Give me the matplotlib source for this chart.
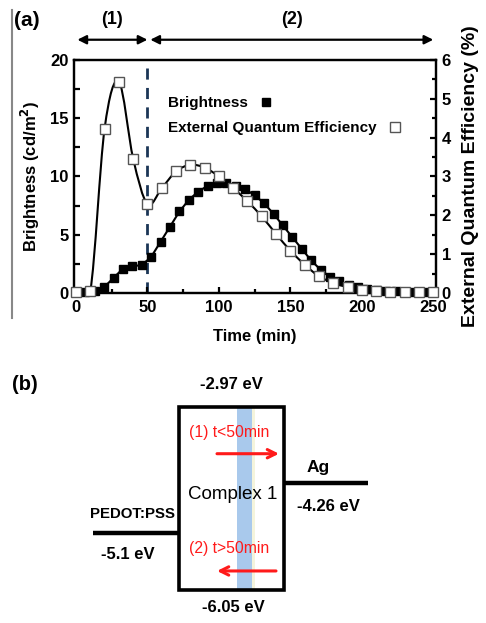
import numpy as np
import matplotlib
matplotlib.use("Agg")
import matplotlib.pyplot as plt
from matplotlib.path import Path
from matplotlib.patches import PathPatch, Rectangle
from matplotlib.lines import Line2D
from matplotlib.ticker import MultipleLocator

plt.rcParams['font.family'] = ['Liberation Sans', 'DejaVu Sans']
plt.rcParams['font.weight'] = 'bold'

# brightness (cd/m2), sampled every ~6.6 min
t_bright = [0, 6.6, 13.2, 19.7, 26.3, 32.9, 39.5, 46.1, 52.6, 59.2, 65.8, 72.4, 79.0,
            85.5, 92.1, 98.7, 105.3, 111.8, 118.4, 125.0, 131.6, 138.2, 144.7, 151.3,
            157.9, 164.5, 171.1, 177.6, 184.2, 190.8, 197.4, 203.9, 210.5, 217.1,
            223.7, 230.3, 236.8, 243.4, 250.0]
brightness = [0.05, 0.1, 0.15, 0.5, 1.3, 2.1, 2.3, 2.4, 3.1, 4.4, 5.7, 7.0, 8.0,
              8.7, 9.2, 9.4, 9.4, 9.2, 8.9, 8.4, 7.7, 6.8, 5.8, 4.8,
              3.8, 2.8, 2.0, 1.4, 1.0, 0.7, 0.5, 0.35, 0.25, 0.2,
              0.15, 0.12, 0.1, 0.1, 0.1]

# external quantum efficiency (%), every 10 min
t_eqe = [0, 10, 20, 30, 40, 50, 60, 70, 80, 90, 100, 110, 120, 130, 140, 150,
         160, 170, 180, 190, 200, 210, 220, 230, 240, 250]
eqe = [0.02, 0.05, 4.23, 5.44, 3.46, 2.29, 2.70, 3.13, 3.30, 3.23, 3.0, 2.70, 2.36,
       1.97, 1.52, 1.09, 0.73, 0.43, 0.26, 0.15, 0.08, 0.05, 0.03, 0.03, 0.02, 0.02]

# energy levels (eV) for panel (b)
lumo = -2.97
homo = -6.05
ag_level = -4.26
pedot_level = -5.1

fig = plt.figure(figsize=(4.86, 6.23), dpi=100)

# ---------------- panel (a) ----------------
ax1 = fig.add_axes([74 / 486, 1 - 293 / 623, 362 / 486, 233 / 623])
ax2 = ax1.twinx()

ax1.plot(t_bright, brightness, color='black', lw=1.5, marker='s', ms=5.5,
         mfc='black', mec='black', clip_on=False, zorder=3)

# smooth curve through EQE points (Catmull-Rom as cubic Bezier path)
pts = np.column_stack([t_eqe, eqe])
verts = [pts[0]]
codes = [Path.MOVETO]
n = len(pts)
for i in range(n - 1):
    p0 = pts[max(i - 1, 0)]
    p1 = pts[i]
    p2 = pts[i + 1]
    p3 = pts[min(i + 2, n - 1)]
    c1 = p1 + (p2 - p0) / 6.0
    c2 = p2 - (p3 - p1) / 6.0
    c1[1] = max(c1[1], 0.0)
    c2[1] = max(c2[1], 0.0)
    verts += [c1, c2, p2]
    codes += [Path.CURVE4] * 3
ax2.add_patch(PathPatch(Path(verts, codes), fc='none', ec='black', lw=1.5, zorder=2))
ax2.plot(t_eqe, eqe, ls='none', marker='s', ms=6.5, mfc='white', mec='#555555',
         mew=1.0, clip_on=False, zorder=4)

ax1.axvline(50, color='#1b3556', lw=2, dashes=(4, 3), zorder=1)

ax1.set_xlim(-1.4, 251.9)
ax1.set_ylim(0, 20)
ax2.set_ylim(0, 6)

for ax in (ax1, ax2):
    for s in ax.spines.values():
        s.set_linewidth(1.6)
ax1.xaxis.set_major_locator(MultipleLocator(50))
ax1.xaxis.set_minor_locator(MultipleLocator(25))
ax1.yaxis.set_major_locator(MultipleLocator(5))
ax1.yaxis.set_minor_locator(MultipleLocator(2.5))
ax2.yaxis.set_major_locator(MultipleLocator(1))
ax2.yaxis.set_minor_locator(MultipleLocator(0.5))
ax1.tick_params(axis='both', which='both', direction='in', width=1.6, labelsize=12)
ax1.tick_params(axis='x', pad=5)
ax1.tick_params(axis='y', pad=4)
ax1.tick_params(which='major', length=4)
ax1.tick_params(which='minor', length=3)
ax1.tick_params(axis='y', which='minor', length=4)
ax2.tick_params(axis='y', which='both', direction='in', width=1.6, length=4, labelsize=12, pad=4)
ax2.tick_params(axis='y', which='minor', length=3)
for lab in ax1.get_xticklabels() + ax1.get_yticklabels() + ax2.get_yticklabels():
    lab.set_fontweight('bold')

ax1.set_xlabel('Time (min)', fontsize=12, fontweight='bold', labelpad=10)
ax1.set_ylabel('Brightness (cd/m$^\\mathbf{2}$)', fontsize=12, fontweight='bold', labelpad=6)
ax2.set_ylabel('External Quantum Efficiency (%)', fontsize=14, fontweight='bold',
               rotation=90, labelpad=8)

# legend: marker right after each text
h1 = Line2D([], [], ls='none', marker='s', ms=5.5, mfc='black', mec='black')
h2 = Line2D([], [], ls='none', marker='s', ms=6.5, mfc='white', mec='#555555')
leg_kw = dict(markerfirst=False, frameon=False, loc='center left',
              prop={'weight': 'bold', 'size': 11}, handlelength=1.0,
              handletextpad=0.7, borderpad=0, borderaxespad=0)
leg1 = ax2.legend([h1], ['Brightness'], bbox_to_anchor=((168 - 74) / 362, (293 - 103) / 233), **leg_kw)
ax2.add_artist(leg1)
ax2.legend([h2], ['External Quantum Efficiency'],
           bbox_to_anchor=((168 - 74) / 362, (293 - 128) / 233), **leg_kw)

# region arrows above the plot
trans = ax1.get_xaxis_transform()
ax1.annotate('', xy=(0, 1.087), xytext=(50, 1.087), xycoords=trans, textcoords=trans,
             arrowprops=dict(arrowstyle='<|-|>', color='black', lw=1.6,
                             mutation_scale=13, shrinkA=0, shrinkB=1))
ax1.annotate('', xy=(52, 1.087), xytext=(250, 1.087), xycoords=trans, textcoords=trans,
             arrowprops=dict(arrowstyle='<|-|>', color='black', lw=1.6,
                             mutation_scale=13, shrinkA=0, shrinkB=0))
ax1.text(25, 1.172, '(1)', transform=trans, ha='center', va='center', fontsize=13, fontweight='bold')
ax1.text(151, 1.172, '(2)', transform=trans, ha='center', va='center', fontsize=13, fontweight='bold')

fig.text(14 / 486, 1 - 20 / 623, '(a)', fontsize=15, fontweight='bold', ha='left', va='center')
fig.add_artist(Line2D([12 / 486, 12 / 486], [1 - 10 / 623, 1 - 318 / 623],
                      transform=fig.transFigure, color='#888888', lw=1.5))

# ---------------- panel (b) ----------------
axb = fig.add_axes([0, 0, 1, 1 - 370 / 623])
axb.set_xlim(0, 486)
px_per_ev = (590 - 406.7) / (lumo - homo)
axb.set_ylim(lumo - (623 - 406.7) / px_per_ev, lumo + (406.7 - 370) / px_per_ev)
axb.axis('off')

box_l, box_r = 179, 284
axb.add_patch(Rectangle((237, homo), 15, lumo - homo, fc='#a9c9ec', ec='none', zorder=1))
axb.add_patch(Rectangle((252, homo), 3, lumo - homo, fc='#f4f4dc', ec='none', zorder=1))
axb.add_patch(Rectangle((box_l, homo), box_r - box_l, lumo - homo, fc='none', ec='black',
                        lw=2.6, zorder=3))
axb.plot([box_r, 368], [ag_level, ag_level], color='black', lw=3.2, solid_capstyle='butt')
axb.plot([93, box_l], [pedot_level, pedot_level], color='black', lw=3.2, solid_capstyle='butt')

axb.text(231, lumo + 0.365, '-2.97 eV', ha='center', va='center', fontsize=12, fontweight='bold')
axb.text(233, homo - 0.3, '-6.05 eV', ha='center', va='center', fontsize=12, fontweight='bold')
axb.text(318, ag_level + 0.27, 'Ag', ha='center', va='center', fontsize=12.5, fontweight='bold')
axb.text(328, ag_level - 0.39, '-4.26 eV', ha='center', va='center', fontsize=12, fontweight='bold')
axb.text(132, pedot_level + 0.32, 'PEDOT:PSS', ha='center', va='center', fontsize=10.8,
         fontweight='bold')
axb.text(128, pedot_level - 0.36, '-5.1 eV', ha='center', va='center', fontsize=12, fontweight='bold')
axb.text(233, -4.44, 'Complex 1', ha='center', va='center', fontsize=13.5,
         fontweight='normal', zorder=4)
axb.text(189, -3.41, '(1) t<50min', ha='left', va='center', fontsize=11.3,
         color='#ff1a1a', fontweight='normal', zorder=4)
axb.text(189, -5.35, '(2) t>50min', ha='left', va='center', fontsize=11.3,
         color='#ff1a1a', fontweight='normal', zorder=4)
axb.annotate('', xy=(279, -3.76), xytext=(217, -3.76),
             arrowprops=dict(arrowstyle='->', color='#ff1a1a', lw=2.2, mutation_scale=15,
                             shrinkA=0, shrinkB=0), zorder=4)
axb.annotate('', xy=(217, -5.73), xytext=(276, -5.73),
             arrowprops=dict(arrowstyle='->', color='#ff1a1a', lw=2.2, mutation_scale=15,
                             shrinkA=0, shrinkB=0), zorder=4)
axb.text(12, lumo + 0.365, '(b)', ha='left', va='center', fontsize=14.5, fontweight='bold')

fig.savefig('out.png', dpi=100)
